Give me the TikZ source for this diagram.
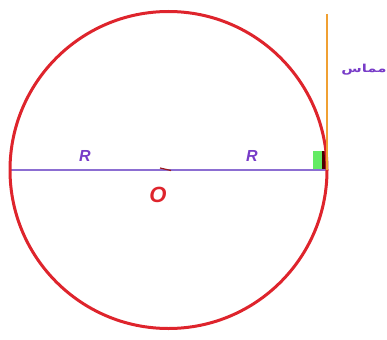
\documentclass[tikz,border=0pt]{standalone}
\usepackage{fontspec}
\setmainfont{Liberation Sans}
\newfontfamily\arabicfont[Script=Arabic]{DejaVu Sans}
\TeXXeTstate=1
\definecolor{circred}{RGB}{222,36,44}
\definecolor{diampurple}{RGB}{140,110,210}
\definecolor{labpurple}{RGB}{120,60,200}
\definecolor{tanorange}{RGB}{240,160,50}
\definecolor{sqgreen}{RGB}{100,235,100}
\begin{document}
\begin{tikzpicture}[x=1pt,y=-1pt,
  rlabel/.style={text=labpurple,font=\bfseries\itshape\fontsize{16}{16}\selectfont,inner sep=0pt},
  olabel/.style={text=circred,font=\bfseries\itshape\fontsize{22}{22}\selectfont,inner sep=0pt}]
\useasboundingbox (0,0) rectangle (387,339);
\coordinate (O) at (168.5,170);
\coordinate (A) at (10,170);
\coordinate (B) at (327,170);
\coordinate (T) at (327,14);
% right-angle square
\fill[sqgreen] (313,151) rectangle (327,169);
\fill[black!70!red] (322,151) rectangle (327,169);
% diameter
\draw[diampurple,line width=1.8] (A) -- (B);
% circle
\draw[circred,line width=3] (O) circle (158.5);
% tangent
\draw[tanorange,line width=2] (T) -- (B);
% center mark
\draw[circred!70!black,line width=1.2] (160,168) -- (171,170.5);
% labels
\node[rlabel] (R1) at (85,156) {R};
\node[rlabel] (R2) at (252,156) {R};
\node[olabel] (Olab) at (158,195) {O};
\node[text=labpurple,inner sep=0pt,xscale=1.35,transform shape,font=\arabicfont\bfseries\fontsize{11}{11}\selectfont] (tan) at (364,70) {\beginR مماس\endR};
\end{tikzpicture}
\end{document}
